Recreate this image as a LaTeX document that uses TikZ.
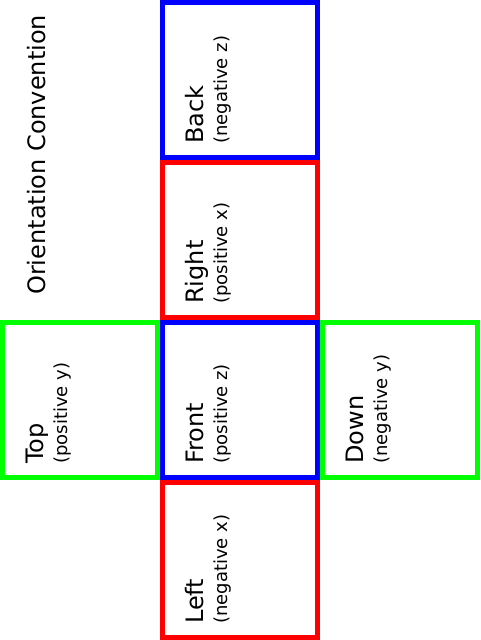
\documentclass[tikz,border=0pt]{standalone}
\usepackage{fontspec}
\setmainfont{DejaVu Sans}
\begin{document}
\begin{tikzpicture}[x=1pt,y=1pt,
  face/.style={line width=5pt},
  mainlbl/.style={rotate=90,anchor=base west,inner sep=0pt,font=\fontsize{24}{28}\selectfont},
  sublbl/.style={rotate=90,anchor=base west,inner sep=0pt,font=\fontsize{18}{21}\selectfont}]
\useasboundingbox (0,0) rectangle (480,640);
\definecolor{cred}{RGB}{255,0,0}
\definecolor{cblue}{RGB}{0,0,255}
\definecolor{cgreen}{RGB}{0,255,0}
% faces
\draw[face,cblue]  (162.5,482.5) rectangle (317.5,637.5);
\draw[face,cred]   (162.5,322.5) rectangle (317.5,477.5);
\draw[face,cgreen] (2.5,162.5) rectangle (157.5,317.5);
\draw[face,cblue]  (162.5,162.5) rectangle (317.5,317.5);
\draw[face,cgreen] (322.5,162.5) rectangle (477.5,317.5);
\draw[face,cred]   (162.5,2.5) rectangle (317.5,157.5);
% labels
\node[mainlbl] (title) at (45,345) {Orientation Convention};
\node[mainlbl] (back) at (203,496) {Back};
\node[sublbl] (backs) at (227,496) {(negative z)};
\node[mainlbl] (right) at (203,336) {Right};
\node[sublbl] (rights) at (227,336) {(positive x)};
\node[mainlbl] (top) at (43,176) {Top};
\node[sublbl] (tops) at (67,176) {(positive y)};
\node[mainlbl] (front) at (203,176) {Front};
\node[sublbl] (fronts) at (227,176) {(positive z)};
\node[mainlbl] (down) at (363,176) {Down};
\node[sublbl] (downs) at (387,176) {(negative y)};
\node[mainlbl] (left) at (203,16) {Left};
\node[sublbl] (lefts) at (227,16) {(negative x)};
\end{tikzpicture}
\end{document}
